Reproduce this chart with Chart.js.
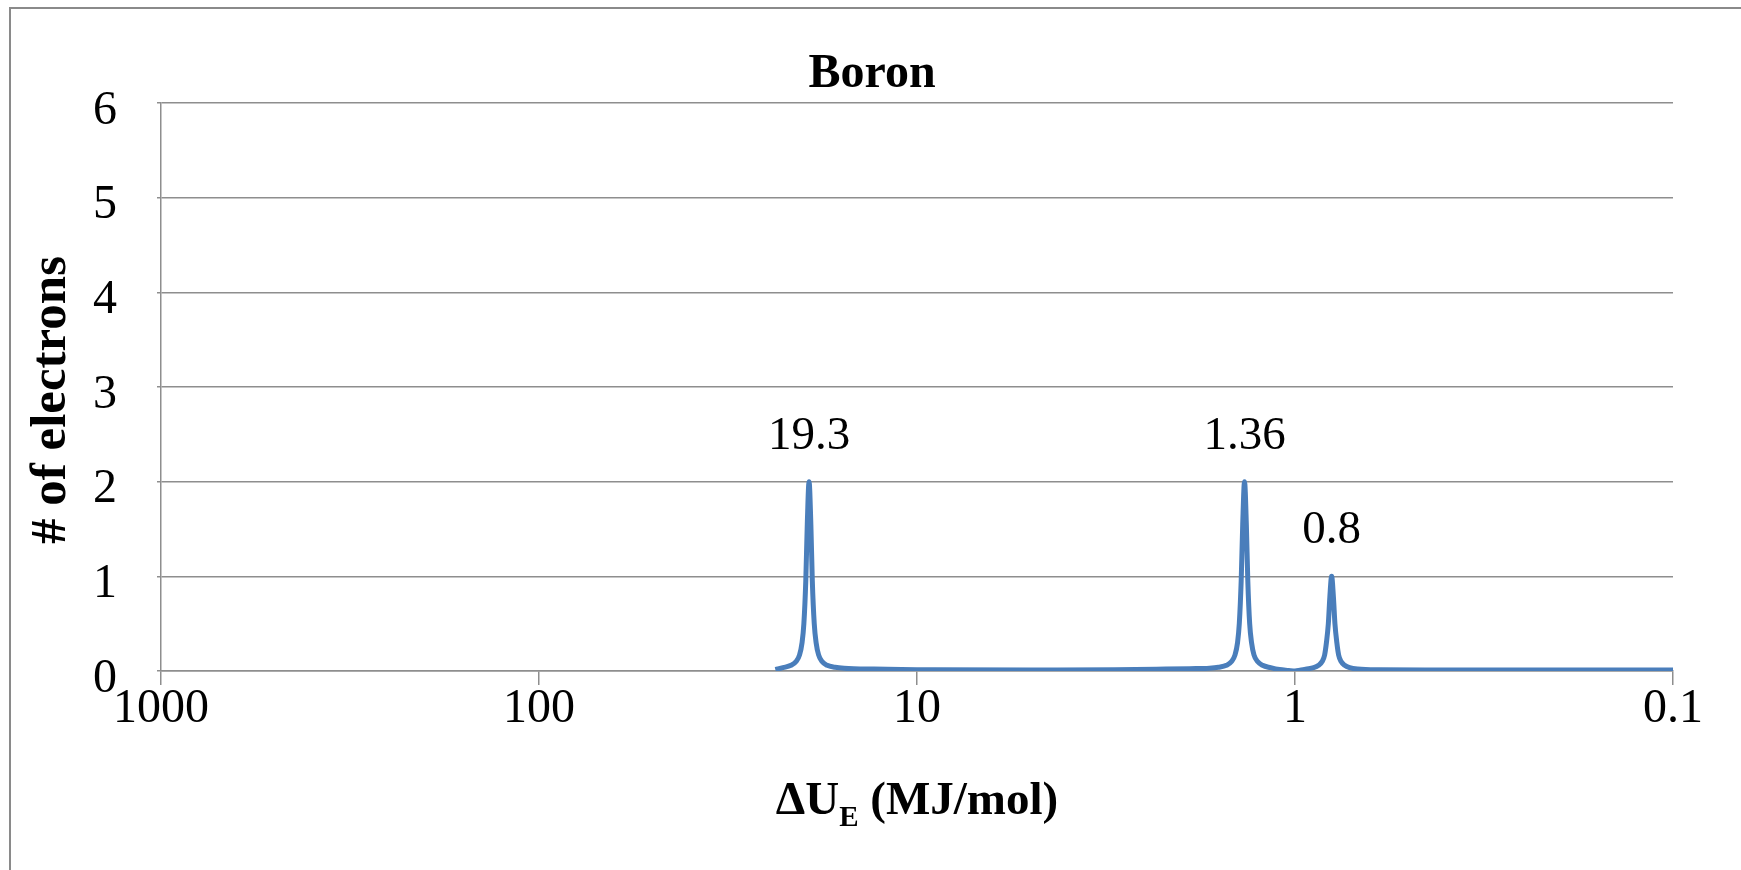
<!DOCTYPE html>
<html>
<head>
<meta charset="utf-8">
<script src="https://cdn.jsdelivr.net/npm/chart.js@4.4.1/dist/chart.umd.min.js"></script>
<style>
  html, body { margin: 0; padding: 0; background: #fff; }
  #wrap { width: 1741px; height: 870px; position: relative; }
</style>
</head>
<body>
<div id="wrap"><canvas id="c" width="1741" height="870"></canvas></div>
<script>
// ---- data ----
const chartTitle = 'Boron';
const yAxisTitle = '# of electrons';
const xAxisMain = 'ΔU';
const xAxisSub = 'E';
const xAxisRest = ' (MJ/mol)';

const energies = [
  23.7, 22.62, 21.54, 20.89, 20.45, 20.14, 19.92, 19.69, 19.51, 19.3,
  19.09, 18.92, 18.70, 18.49, 18.21, 17.83, 17.29, 16.47, 15.6, 13.0,
  9.0, 5.0, 3.0, 2.2, 1.9, 1.684, 1.594, 1.518, 1.472, 1.441,
  1.419, 1.404, 1.388, 1.375, 1.36, 1.345, 1.333, 1.318, 1.303, 1.284,
  1.256, 1.219, 1.16, 1.099, 1.04, 1.0, 0.97, 0.9376, 0.8928, 0.866,
  0.8477, 0.8349, 0.8258, 0.8162, 0.8088, 0.8, 0.7913, 0.7841, 0.775, 0.7666,
  0.755, 0.739, 0.7168, 0.6826, 0.6, 0.4, 0.25, 0.1
];
const electrons = [
  0.015, 0.035, 0.06, 0.10, 0.17, 0.30, 0.50, 0.95, 1.55, 2.00,
  1.55, 0.95, 0.50, 0.30, 0.17, 0.10, 0.06, 0.04, 0.03, 0.02,
  0.012, 0.01, 0.012, 0.02, 0.025, 0.03, 0.04, 0.06, 0.10, 0.17,
  0.30, 0.50, 0.95, 1.55, 2.00, 1.55, 0.95, 0.50, 0.30, 0.17,
  0.10, 0.06, 0.035, 0.015, 0.006, 0.0, 0.008, 0.02, 0.035, 0.06,
  0.10, 0.17, 0.30, 0.50, 0.78, 1.00, 0.78, 0.50, 0.30, 0.17,
  0.10, 0.06, 0.035, 0.02, 0.012, 0.01, 0.01, 0.01
];
const peakEnergies = [19.3, 1.36, 0.8];
const peakHeights = [2, 2, 1];
const peakLabels = ['19.3', '1.36', '0.8'];
const xTickValues = [1000, 100, 10, 1, 0.1];
const yMin = 0, yMax = 6, yStep = 1;

// ---- styles ----
const SERIF = '"Liberation Serif", "Times New Roman", serif';
const GRID = '#8e8e8e';
const LINE = '#4a7ebb';

const points = energies.map((e, i) => ({ x: e, y: electrons[i] }));

const framePlugin = {
  id: 'frame',
  beforeDraw(chart) {
    const ctx = chart.ctx;
    ctx.save();
    ctx.fillStyle = '#fff';
    ctx.fillRect(0, 0, chart.width, chart.height);
    ctx.strokeStyle = '#8a8a8a';
    ctx.lineWidth = 2;
    ctx.beginPath();
    ctx.moveTo(10, 870);
    ctx.lineTo(10, 8);
    ctx.lineTo(1741, 8);
    ctx.stroke();
    ctx.restore();
  }
};

const textPlugin = {
  id: 'texts',
  afterDraw(chart) {
    const ctx = chart.ctx;
    const xs = chart.scales.x, ys = chart.scales.y;
    const area = chart.chartArea;
    ctx.save();
    ctx.fillStyle = '#000';
    // title
    ctx.font = 'bold 48px ' + SERIF;
    ctx.textAlign = 'center';
    ctx.textBaseline = 'alphabetic';
    ctx.fillText(chartTitle, 872, 87);
    // y axis title
    ctx.save();
    ctx.translate(65, 400);
    ctx.rotate(-Math.PI / 2);
    ctx.font = 'bold 51px ' + SERIF;
    ctx.textAlign = 'center';
    ctx.fillText(yAxisTitle, 0, 0);
    ctx.restore();
    // x axis title with subscript
    const mainFont = 'bold 47px ' + SERIF;
    const subFont = 'bold 29px ' + SERIF;
    ctx.font = mainFont;
    const w1 = ctx.measureText(xAxisMain).width;
    const w3 = ctx.measureText(xAxisRest).width;
    ctx.font = subFont;
    const w2 = ctx.measureText(xAxisSub).width;
    const total = w1 + w2 + w3;
    let x0 = (area.left + area.right) / 2 - total / 2;
    const base = 814;
    ctx.textAlign = 'left';
    ctx.font = mainFont;
    ctx.fillText(xAxisMain, x0, base);
    ctx.font = subFont;
    ctx.fillText(xAxisSub, x0 + w1, base + 12);
    ctx.font = mainFont;
    ctx.fillText(xAxisRest, x0 + w1 + w2, base);
    // peak labels
    ctx.font = '47px ' + SERIF;
    ctx.textAlign = 'center';
    peakEnergies.forEach((e, i) => {
      const px = xs.getPixelForValue(e);
      const py = ys.getPixelForValue(peakHeights[i]);
      ctx.fillText(peakLabels[i], px, py - 33);
    });
    ctx.restore();
  }
};

new Chart(document.getElementById('c'), {
  type: 'line',
  data: {
    datasets: [{
      data: points,
      borderColor: LINE,
      borderWidth: 5,
      pointRadius: 0,
      fill: false,
      cubicInterpolationMode: 'monotone',
      tension: 0.4
    }]
  },
  options: {
    responsive: false,
    animation: false,
    devicePixelRatio: 1,
    layout: { padding: { left: 0, right: 68, top: 103, bottom: 0 } },
    plugins: { legend: { display: false }, title: { display: false }, tooltip: { enabled: false } },
    scales: {
      x: {
        type: 'logarithmic',
        reverse: true,
        min: 0.1,
        max: 1000,
        afterFit(s) { s.height = 199; },
        afterBuildTicks(s) { s.ticks = xTickValues.map(v => ({ value: v, major: true })); },
        grid: { drawOnChartArea: false, drawTicks: true, tickLength: 14, color: GRID, lineWidth: 1.5 },
        border: { display: true, color: GRID, width: 1.5 },
        ticks: {
          autoSkip: false,
          maxRotation: 0,
          padding: -4,
          color: '#000',
          font: { family: SERIF, size: 48 },
          callback: (v) => String(v)
        }
      },
      y: {
        type: 'linear',
        min: yMin,
        max: yMax,
        afterFit(s) { s.width = 161; },
        grid: { drawOnChartArea: true, drawTicks: true, tickLength: 4, color: GRID, lineWidth: 1.5 },
        border: { display: true, color: GRID, width: 1.5 },
        ticks: {
          stepSize: yStep,
          padding: 40,
          labelOffset: 8,
          color: '#000',
          font: { family: SERIF, size: 48 }
        }
      }
    }
  },
  plugins: [framePlugin, textPlugin]
});
</script>
</body>
</html>
